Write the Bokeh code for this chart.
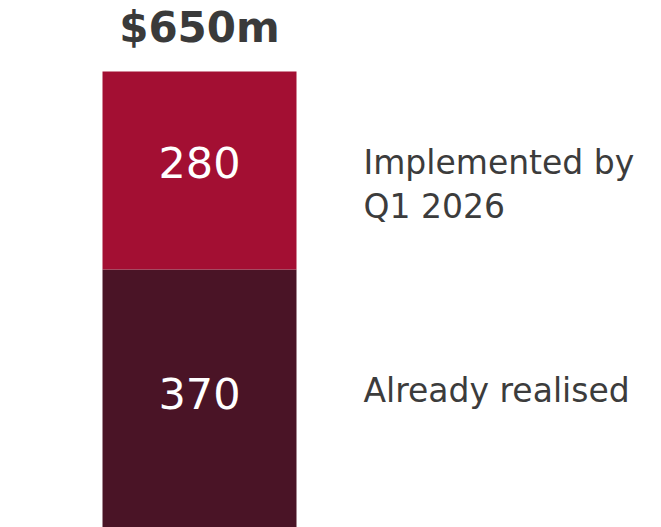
from bokeh.plotting import figure
from bokeh.models import ColumnDataSource, Range1d
from bokeh.embed import file_html
from bokeh.resources import INLINE
from bokeh.core.properties import value

# data
segments = ["Already realised", "Implemented by\nQ1 2026"]
values = [370, 280]
colors = ["#4A1426", "#A30F33"]
total_label = "$650m"

bottoms = [0]
for v in values[:-1]:
    bottoms.append(bottoms[-1] + v)
tops = [b + v for b, v in zip(bottoms, values)]
mids = [(b + t) / 2 for b, t in zip(bottoms, tops)]
total = tops[-1]

FONT = "DejaVu Sans"
W, H = 661, 527
p = figure(width=W, height=H, output_backend="svg", toolbar_location=None,
           x_range=Range1d(-1.0258, 2.3814), y_range=Range1d(5.1, 750.4),
           min_border=0, outline_line_color=None)
p.xaxis.visible = False
p.yaxis.visible = False
p.grid.visible = False
p.background_fill_color = "white"
p.border_fill_color = "white"

src = ColumnDataSource(dict(x=[0] * len(values), lx=[0.845] * len(values),
                            bottom=bottoms, top=tops,
                            color=colors, mid=mids,
                            num_off=[-7, -8], seg_off=[-10, 14],
                            num=[str(v) for v in values], seg=segments))
p.vbar(x="x", bottom="bottom", top="top", width=1.0, fill_color="color",
       line_color=None, source=src)

p.text(x="x", y="mid", text="num", source=src, text_align="center",
       text_baseline="middle", y_offset="num_off", text_color="white",
       text_font=value(FONT), text_font_size="43px")

p.text(x=[0], y=[total], text=[total_label], text_align="center",
       text_baseline="middle", y_offset=-44, text_color="#3A3A3A",
       text_font=value(FONT), text_font_style="bold", text_font_size="42px")

p.text(x="lx", y="mid", text="seg", source=src, text_align="left",
       text_baseline="middle", y_offset="seg_off", text_color="#3C3C3C",
       text_line_height=1.12,
       text_font=value(FONT), text_font_size="33px")

open("out.html", "w").write(file_html(p, INLINE))
